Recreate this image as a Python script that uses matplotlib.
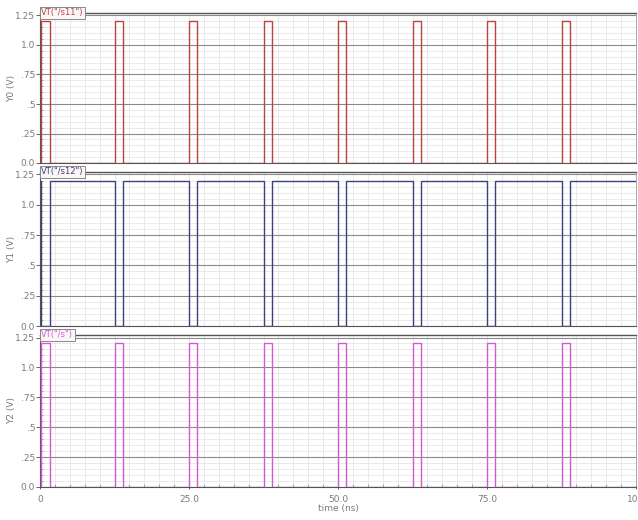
import matplotlib
matplotlib.use("Agg")
import matplotlib.pyplot as plt
from matplotlib.ticker import MultipleLocator, FixedLocator

# ---- data ----
rise_times = [0.2, 12.6, 25.0, 37.6, 50.0, 62.6, 75.0, 87.6]   # ns, start of each pulse
fall_times = [1.6, 14.0, 26.4, 39.0, 51.4, 64.0, 76.4, 89.0]   # ns, end of each pulse
v_high = 1.2
v_low = 0.0
t_end = 100.0

series_names = ['VT("/s11")', 'VT("/s12")', 'VT("/s")']
y_labels = ["Y0 (V)", "Y1 (V)", "Y2 (V)"]
inverted = [False, True, False]
colors = ["#b8443c", "#3c4278", "#d25ad2"]
ytick_vals = [0.0, 0.25, 0.5, 0.75, 1.0, 1.25]
ytick_labels = ["0.0", ".25", ".5", ".75", "1.0", "1.25"]
xtick_vals = [0, 25, 50, 75, 100]
xtick_labels = ["0", "25.0", "50.0", "75.0", "100"]


def waveform(inv):
    hi, lo = (v_low, v_high) if inv else (v_high, v_low)
    t = [0.0]
    v = [lo]
    for r, f in zip(rise_times, fall_times):
        t += [r, r, f, f]
        v += [lo, hi, hi, lo]
    t.append(t_end)
    v.append(lo)
    return t, v


W, H = 638, 520
fig = plt.figure(figsize=(W / 100, H / 100), dpi=100)
fig.patch.set_facecolor("white")

# (top_px, zero_px) for each panel
panels = [(13, 163), (172, 326), (335, 487)]
left_px, right_px = 40, 636

label_gray = "#7a7a7a"
for i, (top_px, zero_px) in enumerate(panels):
    y125_px = top_px + 2.5
    scale = (zero_px - y125_px) / 1.25
    ytop = (zero_px - top_px) / scale
    ax = fig.add_axes([left_px / W, 1 - zero_px / H, (right_px - left_px) / W,
                       (zero_px - top_px) / H])
    t, v = waveform(inverted[i])
    ax.plot(t, v, color=colors[i], lw=1.0, solid_joinstyle="miter", zorder=3)
    ax.set_xlim(0, t_end)
    ax.set_ylim(0, ytop)

    ax.yaxis.set_major_locator(FixedLocator(ytick_vals))
    ax.set_yticklabels(ytick_labels)
    ax.yaxis.set_minor_locator(MultipleLocator(0.05))
    ax.xaxis.set_major_locator(FixedLocator(xtick_vals))
    ax.xaxis.set_minor_locator(MultipleLocator(2.5))

    ax.grid(which="minor", axis="both", color="#e6e6e6", lw=0.6, zorder=0)
    ax.grid(which="major", axis="y", color="#8a8a8a", lw=0.8, zorder=1)
    ax.grid(which="major", axis="x", color="#e0e0e0", lw=0.6, zorder=0)
    ax.set_axisbelow(True)

    ax.tick_params(axis="y", which="major", length=3, width=0.7, direction="out",
                   labelsize=6.5, labelcolor=label_gray, color="#666666", pad=0.5)
    ax.tick_params(axis="y", which="minor", length=2, width=0.5, direction="in",
                   color="#888888")
    for s in ["left", "bottom"]:
        ax.spines[s].set_color("#555555")
        ax.spines[s].set_linewidth(0.8)
    ax.spines["right"].set_color("#999999")
    ax.spines["right"].set_linewidth(0.6)
    ax.spines["top"].set_color("#555555")
    ax.spines["top"].set_linewidth(1.0)

    if i < 2:
        ax.tick_params(axis="x", which="both", labelbottom=False, length=0)
    else:
        ax.set_xticklabels(xtick_labels)
        ax.tick_params(axis="x", which="major", length=3, width=0.7, direction="inout",
                       labelsize=6.5, labelcolor=label_gray, color="#666666", pad=4)
        ax.tick_params(axis="x", which="minor", length=2, width=0.5, direction="in",
                       color="#888888")
        ax.set_xlabel("time (ns)", fontsize=6.5, color=label_gray, labelpad=0)

    ax.set_ylabel(y_labels[i], fontsize=6.5, color=label_gray)
    ax.yaxis.set_label_coords(-0.04, 0.5)

    ax.text(0.002, 1.0, series_names[i], transform=ax.transAxes, fontsize=6,
            color=colors[i], ha="left", va="center", zorder=6,
            bbox=dict(boxstyle="square,pad=0.2", facecolor="#fbf6f8",
                      edgecolor="#888888", lw=0.7))

fig.savefig("out.png", dpi=100, facecolor="white")
